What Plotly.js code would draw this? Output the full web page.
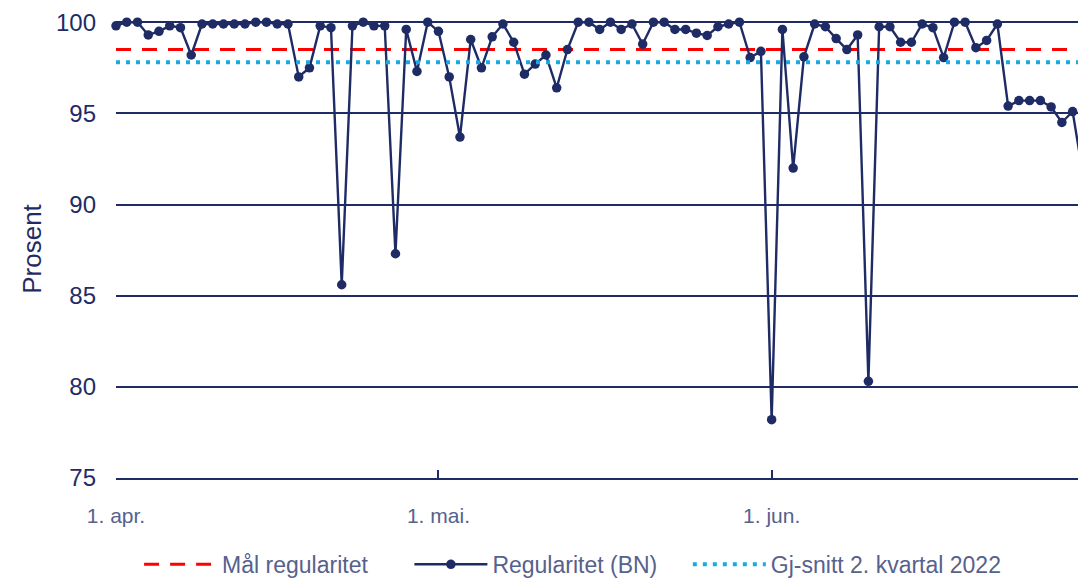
<!DOCTYPE html>
<html>
<head>
<meta charset="utf-8">
<script src="https://cdn.plot.ly/plotly-3.0.1.min.js"></script>
<style>
  html, body { margin: 0; padding: 0; background: #ffffff; }
  #chart { width: 1078px; height: 580px; }
</style>
</head>
<body>
<div id="chart"></div>
<script>
// Daily regularity (BN), percent
const aprilValues = [99.8, 100, 100, 99.3, 99.5, 99.8, 99.7, 98.2, 99.9, 99.9,
                     99.9, 99.9, 99.9, 100, 100, 99.9, 99.9, 97.0, 97.5, 99.8,
                     99.7, 85.6, 99.8, 100, 99.8, 99.8, 87.3, 99.6, 97.3, 100];
const mayValues = [99.5, 97.0, 93.7, 99.05, 97.5, 99.2, 99.9, 98.9, 97.15, 97.7,
                   98.2, 96.4, 98.5, 100, 100, 99.6, 100, 99.6, 99.9, 98.8,
                   100, 100, 99.6, 99.6, 99.4, 99.27, 99.75, 99.9, 100, 98.06, 98.4];
const juneValues = [78.2, 99.6, 92.0, 98.1, 99.9, 99.75, 99.1, 98.5, 99.3, 80.3,
                    99.75, 99.75, 98.9, 98.9, 99.9, 99.7, 98.06, 100, 100, 98.6,
                    99.0, 99.9, 95.4, 95.7, 95.7, 95.7, 95.35, 94.5, 95.1, 91.5];

const goalValue = 98.5;      // Mål regularitet
const quarterAverage = 97.8; // Gj-snitt 2. kvartal 2022

const tickDates = ['2022-04-01', '2022-05-01', '2022-06-01'];
const tickLabels = ['1. apr.', '1. mai.', '1. jun.'];
const yTicks = [75, 80, 85, 90, 95, 100];

const seriesNames = ['Mål regularitet', 'Regularitet (BN)', 'Gj-snitt 2. kvartal 2022'];
// extra (non-breaking) spacing after each legend entry, to match the reference spacing
const legendGaps = ['\u00A0\u00A0\u00A0\u00A0\u00A0\u2009', '\u00A0\u00A0\u00A0\u00A0', ''];

function pad(n) { return (n < 10 ? '0' : '') + n; }
function legendName(i) { return seriesNames[i] + legendGaps[i]; }

const dates = [];
const values = [];
[['04', aprilValues], ['05', mayValues], ['06', juneValues]].forEach(([m, arr]) => {
  arr.forEach((v, i) => { dates.push('2022-' + m + '-' + pad(i + 1)); values.push(v); });
});
const firstDate = dates[0];
const lastDate = dates[dates.length - 1];

const navy = '#1f2b65';
const softNavy = '#56618d';
const fontFamily = '"Liberation Sans", Arial, sans-serif';

const traces = [
  {
    x: [firstDate, lastDate],
    y: [goalValue, goalValue],
    type: 'scatter', mode: 'lines',
    name: legendName(0),
    line: { color: '#ff0000', width: 3, dash: '15px,11px' },
    hoverinfo: 'skip'
  },
  {
    x: dates, y: values,
    type: 'scatter', mode: 'lines+markers',
    name: legendName(1),
    line: { color: navy, width: 2.4 },
    marker: { color: navy, size: 9.5 },
    cliponaxis: false
  },
  {
    x: [firstDate, lastDate],
    y: [quarterAverage, quarterAverage],
    type: 'scatter', mode: 'lines',
    name: legendName(2),
    line: { color: '#17aae3', width: 4, dash: '4px,6px' },
    hoverinfo: 'skip'
  }
];

const layout = {
  width: 1078, height: 580,
  margin: { l: 116, r: 0, t: 20, b: 102, pad: 0 },
  paper_bgcolor: '#ffffff', plot_bgcolor: '#ffffff',
  font: { family: fontFamily, color: navy },
  showlegend: true,
  legend: {
    orientation: 'h',
    xref: 'paper', x: 0.024, xanchor: 'left',
    yref: 'container', y: 0.027, yanchor: 'middle',
    font: { family: fontFamily, size: 23, color: softNavy },
    itemwidth: 73,
    traceorder: 'normal',
    bgcolor: 'rgba(0,0,0,0)'
  },
  xaxis: {
    type: 'date',
    range: ['2022-04-01 00:00', '2022-06-29 12:00'],
    tickmode: 'array',
    tickvals: tickDates,
    ticktext: tickLabels,
    ticks: 'inside', ticklen: 8, tickwidth: 2, tickcolor: navy,
    showline: true, linecolor: navy, linewidth: 2,
    showgrid: false, zeroline: false,
    tickfont: { family: fontFamily, size: 21, color: softNavy },
    ticklabelstandoff: 18,
    automargin: false,
    fixedrange: true
  },
  yaxis: {
    range: [75, 100.12],
    tickmode: 'array',
    tickvals: yTicks,
    ticks: '',
    showgrid: true, gridcolor: navy, gridwidth: 2,
    showline: false, zeroline: false,
    tickfont: { family: fontFamily, size: 24, color: navy },
    ticklabelstandoff: 19,
    title: { text: 'Prosent', font: { family: fontFamily, size: 26, color: navy }, standoff: 6 },
    automargin: false,
    fixedrange: true
  }
};

Plotly.newPlot('chart', traces, layout, { displayModeBar: false, staticPlot: true });
</script>
</body>
</html>
